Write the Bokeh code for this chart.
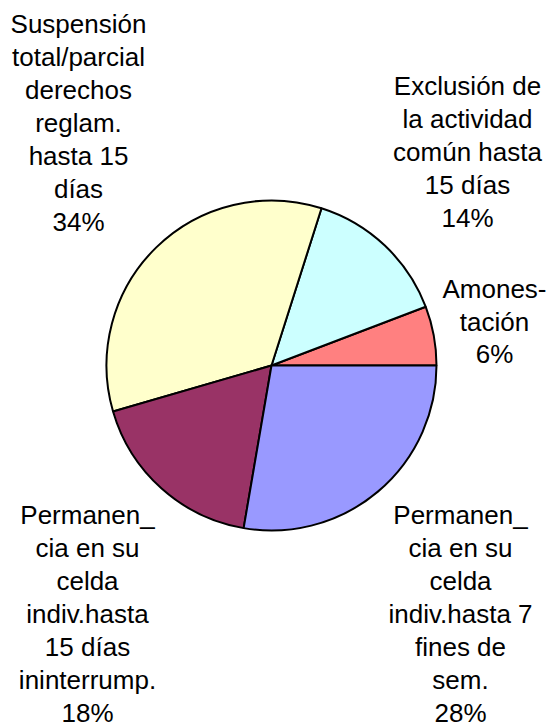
import numpy as np
from bokeh.plotting import figure
from bokeh.models import Range1d, ColumnDataSource
from bokeh.core.properties import value
from bokeh.embed import file_html
from bokeh.resources import INLINE

# ---- data ----
categories = [
    "Amones-\ntación",
    "Exclusión de\nla actividad\ncomún hasta\n15 días",
    "Suspensión\ntotal/parcial\nderechos\nreglam.\nhasta 15\ndías",
    "Permanen_\ncia en su\ncelda\nindiv.hasta\n15 días\nininterrump.",
    "Permanen_\ncia en su\ncelda\nindiv.hasta 7\nfines de\nsem.",
]
values = [5.8, 14.3, 34.4, 17.8, 27.7]
colors = ["#FF8080", "#CCFFFF", "#FFFFCC", "#993366", "#9999FF"]

# ---- layout (image pixel coordinates) ----
IMG_W, IMG_H = 551, 727
W, H = 551, 727
cx, cy, R = 271, 365, 165
TEXT_SHIFT = -9.5
# label anchors: centre x, first baseline y, line spacing
label_pos = [
    (494, 298, 32.5),
    (467, 95, 33),
    (78, 33, 33),
    (87, 524, 33),
    (460, 524, 33),
]

def ty(img_y):
    return IMG_H - img_y

p = figure(width=W, height=H, output_backend="svg", toolbar_location=None,
           x_range=Range1d(0, W), y_range=Range1d(IMG_H - H, IMG_H),
           min_border=0)
p.axis.visible = False
p.grid.visible = False
p.outline_line_color = None
p.background_fill_color = "white"
p.border_fill_color = "white"

vals = np.array(values, dtype=float)
frac = vals / vals.sum()
ends = np.cumsum(frac) * 2 * np.pi
starts = np.concatenate([[0.0], ends[:-1]])

src = ColumnDataSource(dict(x=[cx] * len(vals), y=[ty(cy)] * len(vals),
                            start=starts, end=ends, color=colors))
p.wedge(x="x", y="y", radius=R, radius_units="data", start_angle="start",
        end_angle="end", direction="anticlock", fill_color="color",
        line_color="black", line_width=2, source=src)

tx, tyy, tt = [], [], []
for cat, f, (lx, ly, ls) in zip(categories, frac, label_pos):
    lines = cat.split("\n") + [f"{round(f * 100):.0f}%"]
    for i, line in enumerate(lines):
        tx.append(lx)
        tyy.append(ty(ly + i * ls + TEXT_SHIFT))
        tt.append(line)

p.text(x=tx, y=tyy, text=tt, text_font=value("Liberation Sans"),
       text_font_size="26px", text_align="center", text_baseline="alphabetic",
       text_color="black")

open("out.html", "w").write(file_html(p, INLINE))
